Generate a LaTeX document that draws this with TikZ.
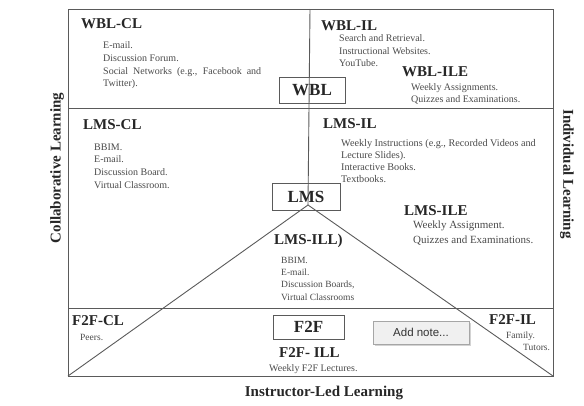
\documentclass[tikz,border=0pt]{standalone}
\usepackage{fontspec}
\setmainfont{Liberation Serif}
\setsansfont{Liberation Sans}
\usetikzlibrary{shadows}

\definecolor{linegray}{HTML}{5A5A5A}
\definecolor{inkgray}{HTML}{262626}
\definecolor{itemgray}{HTML}{4A4A4A}

\tikzset{
	head/.style={inner sep=0pt, anchor=west, text=inkgray, font=\fontsize{15}{18}\selectfont\bfseries},
	boxhead/.style={draw=linegray, line width=0.8pt, inner sep=0pt, text=inkgray, font=\fontsize{17}{20}\selectfont\bfseries},
	items/.style={inner sep=0pt, anchor=north west, align=left, text=itemgray, font=\fontsize{10}{12.5}\selectfont},
	axis/.style={inner sep=0pt, text=inkgray, font=\fontsize{15}{18}\selectfont\bfseries},
}

\begin{document}
\begin{tikzpicture}[x=1pt, y=-1pt]
		\useasboundingbox (0,0) rectangle (584,405);
		\coordinate (tl) at (68,9);
		\coordinate (tr) at (553,9);
		\coordinate (bl) at (68,376);
		\coordinate (br) at (553,376);
		\coordinate (top) at (310,9);
		\coordinate (apex) at (308,205);
		\begin{scope}[linegray, line width=0.9pt]
			\draw (tl) rectangle (br);
			\draw (68,108) -- (553,108);
			\draw (68,308) -- (553,308);
			\draw (top) -- (apex);
			\draw (bl) -- (apex) -- (br);
		\end{scope}
		\begin{scope}
			\node[boxhead, minimum width=66pt, minimum height=26pt] (wbl) at (312,90) {WBL};
			\node[boxhead, minimum width=68pt, minimum height=27pt] (lms) at (306,196.5) {LMS};
			\node[boxhead, minimum width=71pt, minimum height=24pt] (f2f) at (308.5,327) {F2F};
		\end{scope}
		\begin{scope}
			\node[head] (wblcl) at (81,24) {WBL-CL};
			\node[items, font=\fontsize{10}{12.7}\selectfont] (wblclitems) at (103,41.5) {E-mail.\\Discussion Forum.\\\makebox[158pt][s]{Social Networks (e.g., Facebook and}\\Twitter).};
			\node[head] (wblil) at (321,26) {WBL-IL};
			\node[items] (wblilitems) at (339,34.5) {Search and Retrieval.\\Instructional Websites.\\YouTube.};
			\node[head] (wblile) at (402,72) {WBL-ILE};
			\node[items, font=\fontsize{10}{12}\selectfont] (wbliletems) at (411,83.5) {Weekly Assignments.\\Quizzes and Examinations.};
		\end{scope}
		\begin{scope}
			\node[head] (lmscl) at (83,125) {LMS-CL};
			\node[items, font=\fontsize{10}{12.7}\selectfont] (lmsclitems) at (94,143.5) {BBIM.\\E-mail.\\Discussion Board.\\Virtual Classroom.};
			\node[head] (lmsil) at (323,124) {LMS-IL};
			\node[items, font=\fontsize{10.2}{12}\selectfont] (lmsilitems) at (341,139.5) {Weekly Instructions (e.g., Recorded Videos and\\Lecture Slides).\\Interactive Books.\\Textbooks.};
			\node[head] (lmsile) at (404,211) {LMS-ILE};
			\node[items, font=\fontsize{11}{15}\selectfont] (lmsileitems) at (413,221) {Weekly Assignment.\\Quizzes and Examinations.};
			\node[head] (lmsill) at (274,241) {LMS-ILL)};
			\node[items, font=\fontsize{9.5}{12.3}\selectfont] (lmsillitems) at (281,256.7) {BBIM.\\E-mail.\\Discussion Boards,\\Virtual Classrooms};
		\end{scope}
		\begin{scope}
			\node[head] (f2fcl) at (72,321) {F2F-CL};
			\node[items, font=\fontsize{9.5}{12}\selectfont] (f2fclitems) at (80,333.7) {Peers.};
			\node[head] (f2fil) at (489,320) {F2F-IL};
			\node[items, font=\fontsize{9.5}{12}\selectfont] (f2filitems) at (506,331.5) {Family.\\\hspace*{17pt}Tutors.};
			\node[head] (f2fill) at (279,353) {F2F- ILL};
			\node[items] (f2fillitems) at (269,364.5) {Weekly F2F Lectures.};
		\end{scope}
		\node[draw=gray!70, fill=gray!12, line width=0.6pt, minimum width=96pt, minimum height=23pt, inner sep=0pt,
			drop shadow={shadow xshift=1.5pt, shadow yshift=-1.5pt, opacity=0.35},
			text=black!80, font=\sffamily\fontsize{11.5}{14}\selectfont] (note) at (421,332.5) {Add note...};
		\node[axis, rotate=90] (collab) at (57,168) {Collaborative Learning};
		\node[axis, rotate=-90] (indiv) at (567,174) {Individual Learning};
		\node[axis] (instr) at (324,393) {Instructor-Led Learning};
	\end{tikzpicture}
\end{document}
